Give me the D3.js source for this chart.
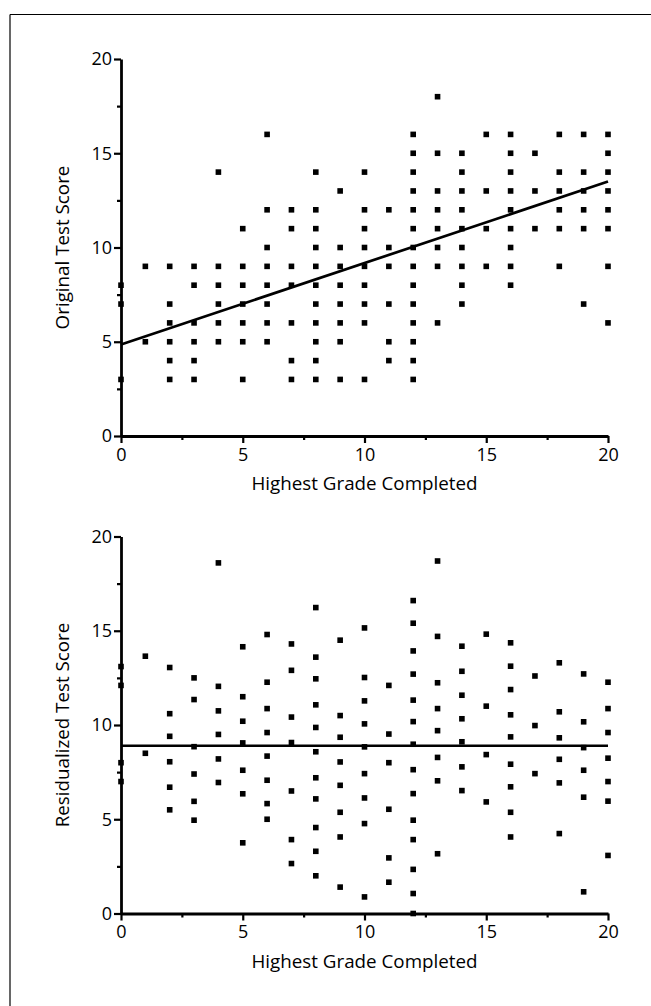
<!DOCTYPE html>
<html>
<head>
<meta charset="utf-8">
<script src="https://cdn.jsdelivr.net/npm/d3@7"></script>
<style>
  html, body { margin: 0; padding: 0; background: #fff; }
  svg { display: block; }
  text { font-family: "Open Sans", Lato, sans-serif; fill: #000; }
</style>
</head>
<body>
<svg id="chart" width="651" height="1006"></svg>
<script>
// ---- Data ----
const grades = d3.range(0, 21);
const majorTicks = [0, 5, 10, 15, 20];
const minorTicks = [2.5, 7.5, 12.5, 17.5];
const xTitle = "Highest Grade Completed";
const topTitle = "Original Test Score";
const bottomTitle = "Residualized Test Score";

// Original test scores, one list per grade (index = grade)
const originalScores = [
  [8, 7, 3],
  [9, 5],
  [9, 7, 6, 5, 4, 3],
  [9, 8, 6, 5, 4, 3],
  [14, 9, 8, 7, 6, 5],
  [11, 9, 8, 7, 6, 5, 3],
  [16, 12, 10, 9, 8, 7, 6, 5],
  [12, 11, 9, 8, 6, 4, 3],
  [14, 12, 11, 10, 9, 8, 7, 6, 5, 4, 3],
  [13, 10, 9, 8, 7, 6, 5, 3],
  [14, 12, 11, 10, 9, 8, 7, 6, 3],
  [12, 10, 9, 7, 5, 4],
  [16, 15, 14, 13, 12, 11, 10, 9, 8, 7, 6, 5, 4, 3],
  [18, 15, 13, 12, 11, 10, 9, 6],
  [15, 14, 13, 12, 11, 10, 9, 8, 7],
  [16, 13, 11, 9],
  [16, 15, 14, 13, 12, 11, 10, 9, 8],
  [15, 13, 11],
  [16, 14, 13, 12, 11, 9],
  [16, 14, 13, 12, 11, 7],
  [16, 15, 14, 13, 12, 11, 9, 6]
];

// Residualized test scores, one list per grade (index = grade)
const residualScores = [
  [13.1, 12.1, 8.0, 7.0],
  [13.65, 8.5],
  [13.05, 10.6, 9.4, 8.05, 6.7, 5.5],
  [12.5, 11.35, 8.85, 7.4, 5.95, 4.95],
  [18.6, 12.05, 10.75, 9.5, 8.2, 6.95],
  [14.15, 11.5, 10.2, 9.05, 7.6, 6.35, 3.75],
  [14.8, 12.27, 10.87, 9.6, 8.35, 7.07, 5.83, 5.0],
  [14.3, 12.9, 10.42, 9.07, 6.5, 3.92, 2.65],
  [16.23, 13.6, 12.45, 11.07, 9.87, 8.58, 7.2, 6.08, 4.56, 3.3, 2.0],
  [14.5, 10.5, 9.35, 8.04, 6.8, 5.37, 4.06, 1.4],
  [15.15, 12.52, 11.28, 10.06, 8.84, 7.42, 6.13, 4.77, 0.88],
  [12.1, 9.52, 8.0, 5.53, 2.95, 1.66],
  [16.6, 15.4, 13.93, 12.7, 11.32, 10.18, 8.98, 7.63, 6.36, 4.95, 3.92, 2.34, 1.06, 0.0],
  [18.7, 14.7, 12.24, 10.87, 9.7, 8.28, 7.04, 3.17],
  [14.18, 12.85, 11.58, 10.33, 9.11, 7.78, 6.52],
  [14.82, 11.0, 8.43, 5.92],
  [14.36, 13.12, 11.88, 10.54, 9.37, 7.92, 6.72, 5.37, 4.06],
  [12.6, 9.97, 7.42],
  [13.3, 10.7, 9.32, 8.18, 6.93, 4.24],
  [12.71, 10.17, 8.8, 7.6, 6.17, 1.15],
  [12.27, 10.87, 9.6, 8.24, 7.0, 5.96, 3.08]
];

// Fitted lines (endpoints at grade 0 and grade 20)
const topFitLine = [[0, 4.85], [20, 13.5]];
const bottomFitLine = [[0, 8.9], [20, 8.9]];

// ---- Drawing ----
const svg = d3.select("#chart");

// Frame (top and left edges visible)
svg.append("line").attr("x1", 10).attr("x2", 651).attr("y1", 14.5).attr("y2", 14.5)
  .attr("stroke", "#000").attr("stroke-width", 1.2);
svg.append("line").attr("x1", 10).attr("x2", 10).attr("y1", 14.5).attr("y2", 1006)
  .attr("stroke", "#000").attr("stroke-width", 1.2);

const x = d3.scaleLinear().domain([0, 20]).range([121, 608]);

function drawPanel(yBottom, yTop, scores, fitLine, yTitle) {
  const y = d3.scaleLinear().domain([0, 20]).range([yBottom, yTop]);
  const g = svg.append("g");

  const pts = [];
  scores.forEach((list, gi) => list.forEach(v => pts.push([grades[gi], v])));

  // points (squares)
  const s = 5.6;
  g.append("g").selectAll("rect").data(pts).join("rect")
    .attr("x", d => x(d[0]) - s / 2)
    .attr("y", d => y(d[1]) - s / 2)
    .attr("width", s).attr("height", s)
    .attr("fill", "#000");

  // fit line
  g.append("path")
    .attr("d", d3.line().x(d => x(d[0])).y(d => y(d[1]))(fitLine))
    .attr("fill", "none").attr("stroke", "#000").attr("stroke-width", 2.7);

  // x axis: minor ticks
  const xMinor = g.append("g").attr("transform", `translate(0,${yBottom})`)
    .call(d3.axisBottom(x).tickValues(minorTicks).tickSize(4).tickSizeOuter(0).tickFormat(""));
  xMinor.select(".domain").remove();
  // y axis: minor ticks
  const yMinor = g.append("g").attr("transform", `translate(${x(0)},0)`)
    .call(d3.axisLeft(y).tickValues(minorTicks).tickSize(4).tickSizeOuter(0).tickFormat(""));
  yMinor.select(".domain").remove();

  // major axes
  const xAx = g.append("g").attr("transform", `translate(0,${yBottom})`)
    .call(d3.axisBottom(x).tickValues(majorTicks).tickSize(7).tickSizeOuter(0).tickPadding(5).tickFormat(d3.format("d")));
  const yAx = g.append("g").attr("transform", `translate(${x(0)},0)`)
    .call(d3.axisLeft(y).tickValues(majorTicks).tickSize(7).tickSizeOuter(0).tickPadding(2).tickFormat(d3.format("d")));

  [xAx, yAx, xMinor, yMinor].forEach(a => {
    a.selectAll("line").attr("stroke", "#000").attr("stroke-width", 2.2);
    a.select(".domain").attr("stroke", "#000").attr("stroke-width", 2.8);
    a.selectAll("text").attr("font-size", 18).attr("font-family", '"Open Sans", Lato, sans-serif').attr("fill", "#000");
  });

  // titles
  g.append("text")
    .attr("x", (x(0) + x(20)) / 2).attr("y", yBottom + 54)
    .attr("text-anchor", "middle").attr("font-size", 18.8)
    .text(xTitle);
  g.append("text")
    .attr("transform", `translate(69,${(yBottom + yTop) / 2}) rotate(-90)`)
    .attr("text-anchor", "middle").attr("font-size", 18.8)
    .text(yTitle);
}

drawPanel(436, 59, originalScores, topFitLine, topTitle);
drawPanel(913.5, 536.5, residualScores, bottomFitLine, bottomTitle);
</script>
</body>
</html>
